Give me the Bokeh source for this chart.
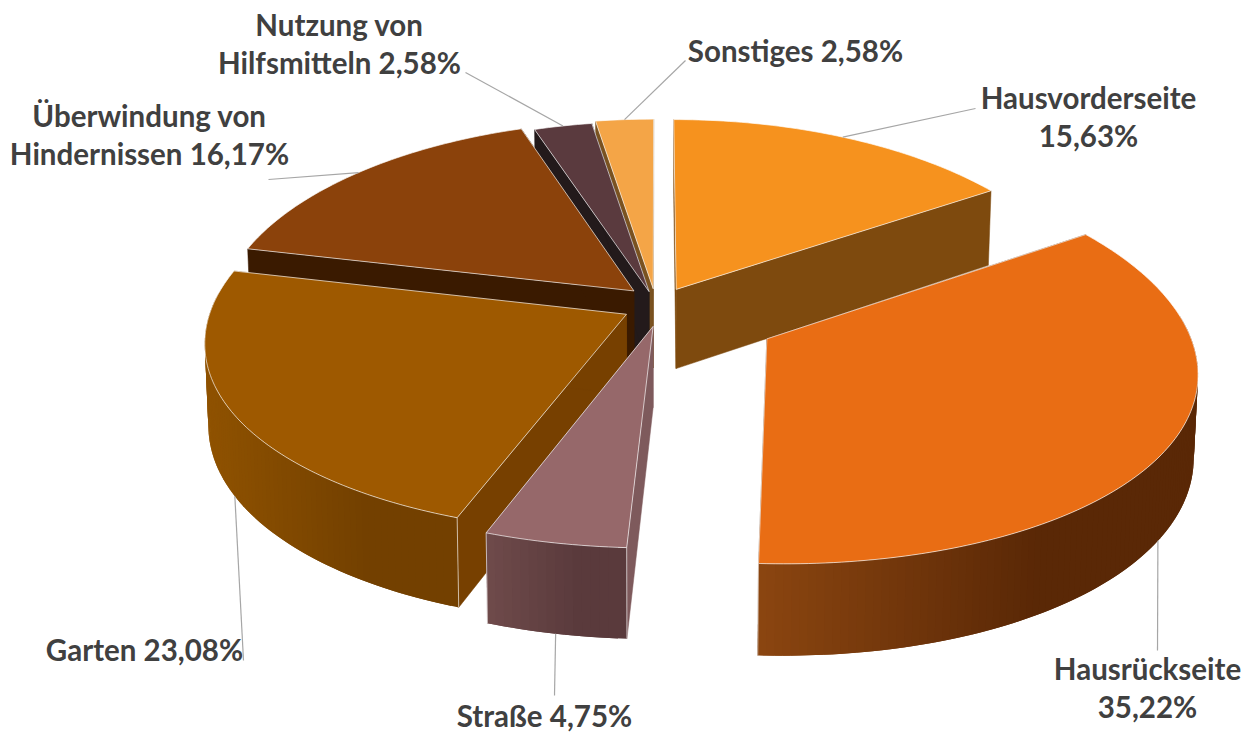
import numpy as np
from bokeh.plotting import figure
from bokeh.models import Range1d
from bokeh.core.properties import value
from bokeh.embed import file_html
from bokeh.resources import INLINE

categories = ["Hausvorderseite", "Hausrückseite", "Straße", "Garten",
              "Überwindung von Hindernissen", "Nutzung von Hilfsmitteln", "Sonstiges"]
shares = [15.63, 35.22, 4.75, 23.08, 16.17, 2.58, 2.58]
label_texts = ["Hausvorderseite\n15,63%", "Hausrückseite\n35,22%", "Straße 4,75%", "Garten 23,08%",
               "Überwindung von\nHindernissen 16,17%", "Nutzung von\nHilfsmitteln 2,58%", "Sonstiges 2,58%"]

top_colors = ["#f6921e", "#e96d14", "#96686a", "#9e5900", "#8b420b", "#5a3a3e", "#f4a547"]
wall_colors = ["#7e4a0e", "#5c2a06", "#7e5a5c", "#774000", "#3a1a00", "#231a1b", "#7a5220"]
outer_light = ["#8a5210", "#8a4510", "#6e4a4a", "#8f5200", "#5a2a06", "#3d2528", "#8a5a20"]
outer_dark = ["#7e4a0e", "#5a2806", "#5a3a3c", "#734000", "#4a2004", "#2d1c1e", "#7a5220"]
offset_x = [0.048, 0.26, -0.008, -0.072, -0.055, -0.018, -0.008]
offset_z = [-0.095, 0.16, 0.097, 0.035, -0.087, -0.083, -0.098]
draw_order = [6, 0, 5, 4, 3, 2, 1]

label_pos = [(1088, 116), (1147, 687), (544, 715), (144, 649), (149, 134), (339, 43), (795, 50)]
leader_arc = [(0.49, 0.0), (0.525, 1.0), (0.5, 1.0), (0.5, 1.0), (0.5, 0.0), (0.5, 0.0), (0.5, 0.0)]
leader_end = [(975, 108), (1157, 650), (554, 695), (243, 660), (268, 179), (465, 72), (685, 60)]

CX, CY, A, B, D, PERSP = 656, 307, 415, 192.5, 80, 9.0


def project(x, z, h):
    s = PERSP / (PERSP - z)
    return CX + A * x * s ** 1.25 * (1 - 0.008 * h), CY + (B * z + D * h) * s


fig = figure(width=1252, height=733, x_range=Range1d(0, 1252), y_range=Range1d(733, 0),
             toolbar_location=None, output_backend="svg", min_border=0,
             background_fill_color="white", border_fill_color="white", outline_line_color=None)
fig.axis.visible = False
fig.grid.visible = False


def mix(c1, c2, t):
    a = [int(c1[i:i + 2], 16) for i in (1, 3, 5)]
    b = [int(c2[i:i + 2], 16) for i in (1, 3, 5)]
    return "#%02x%02x%02x" % tuple(int(round(u + (v - u) * t)) for u, v in zip(a, b))


total = sum(shares)
edges = np.concatenate([[0], np.cumsum(shares)]) / total * 2 * np.pi
for k in draw_order:
    a0, a1 = edges[k], edges[k + 1]
    ox, oz = offset_x[k], offset_z[k]
    th = np.linspace(a0, a1, max(8, int((a1 - a0) * 60)))
    ax, az = ox + np.sin(th), oz - np.cos(th)
    # radial walls
    for t in (a0, a1):
        ex, ez = ox + np.sin(t), oz - np.cos(t)
        p = [project(ox, oz, 0), project(ex, ez, 0), project(ex, ez, 1), project(ox, oz, 1)]
        fig.patch([q[0] for q in p], [q[1] for q in p], fill_color=wall_colors[k],
                  line_color=wall_colors[k], line_width=0.5)
    # outer wall, shaded across its screen width; strips overlap so no seams show
    keep = np.where(-np.cos(th) > -0.12)[0]
    if len(keep) > 1:
        sx, _ = project(ax[keep], az[keep], 0)
        xs, ys, cs = [], [], []
        order = keep if sx[0] < sx[-1] else keep[::-1]
        for n, i in enumerate(order[:-1]):
            j = order[min(n + 1, len(order) - 1)]
            l = order[max(n - 1, 0)]
            p = [project(ax[l], az[l], 0), project(ax[j], az[j], 0),
                 project(ax[j], az[j], 1), project(ax[l], az[l], 1)]
            xs.append([q[0] for q in p])
            ys.append([q[1] for q in p])
            frac = (p[0][0] - sx.min()) / max(1, sx.max() - sx.min())
            cs.append(mix(outer_light[k], outer_dark[k], min(1, 1.6 * frac)))
        fig.patches(xs, ys, fill_color=cs, line_color=None)
        for t in (a0, a1):
            if -np.cos(t) > 0.5:
                ex, ez = ox + np.sin(t), oz - np.cos(t)
                q0, q1 = project(ex, ez, 0), project(ex, ez, 1)
                fig.line([q0[0], q1[0]], [q0[1], q1[1]], line_color="#ffffff", line_alpha=0.6, line_width=1)
    # top face
    tx, ty = project(np.r_[ox, ax], np.r_[oz, az], 0)
    fig.patch(tx, ty, fill_color=top_colors[k], line_color="#ffffff", line_alpha=0.65, line_width=1)

# leader lines start on the slice they describe
for k, ((frac, h), end) in enumerate(zip(leader_arc, leader_end)):
    t = edges[k] + frac * (edges[k + 1] - edges[k])
    sx, sy = project(offset_x[k] + np.sin(t), offset_z[k] - np.cos(t), h)
    fig.line([sx, end[0]], [sy, end[1]], line_color="#a6a6a6", line_width=1.2)

lx, ly = zip(*label_pos)
fig.text(x=list(lx), y=list(ly), text=label_texts, text_align="center", text_baseline="middle",
         text_font=value("Lato"), text_font_style="bold", text_font_size="29.5px",
         text_color="#404040", text_line_height=1.1)

open("out.html", "w").write(file_html(fig, INLINE))
